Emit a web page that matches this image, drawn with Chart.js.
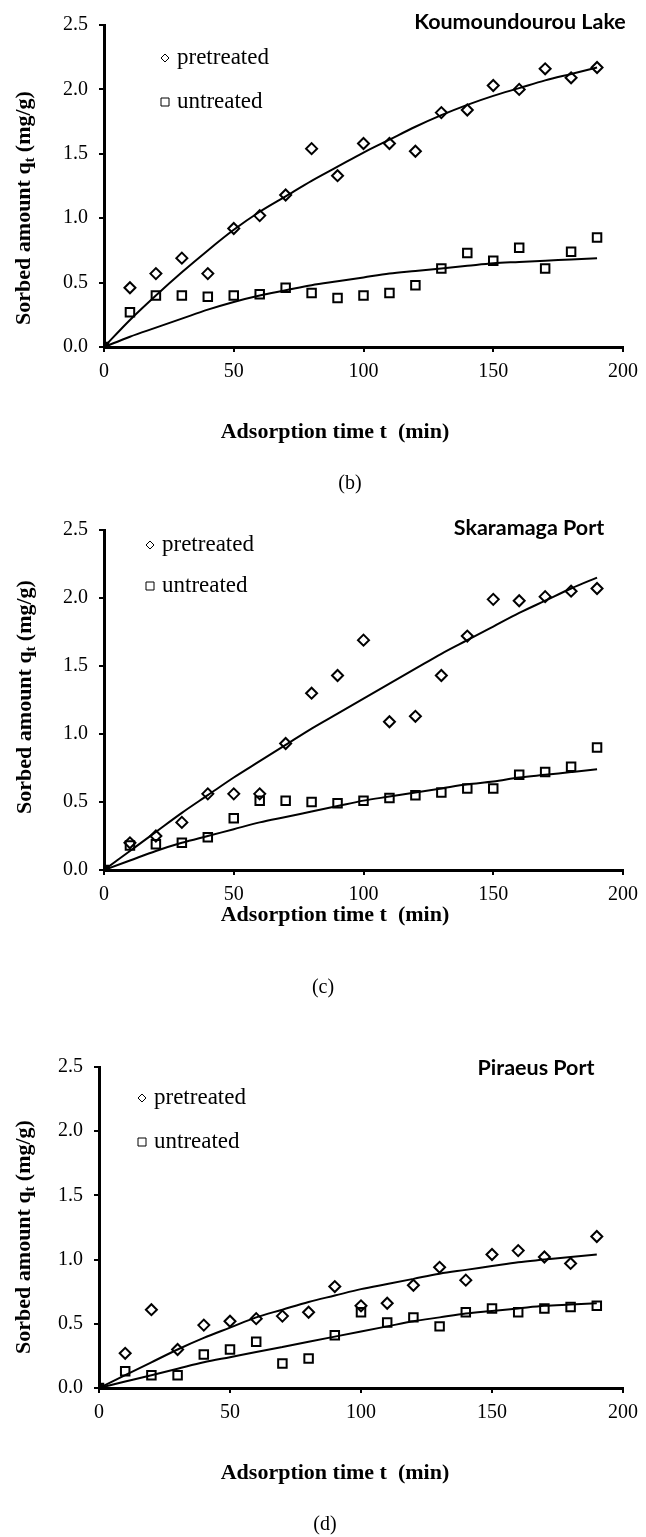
<!DOCTYPE html>
<html>
<head>
<meta charset="utf-8">
<script src="https://cdn.jsdelivr.net/npm/chart.js@4.4.1/dist/chart.umd.min.js"></script>
<style>
  html, body { margin: 0; padding: 0; background: #fff; }
  body { width: 646px; height: 1537px; position: relative; overflow: hidden; }
  canvas { position: absolute; left: 0; }
</style>
</head>
<body>
<canvas id="chartB" width="646" height="495" style="top:0px"></canvas>
<canvas id="chartC" width="646" height="505" style="top:495px"></canvas>
<canvas id="chartD" width="646" height="537" style="top:1000px"></canvas>
<script>
// ─── Data ───────────────────────────────────────────────────────────────────
const TIMES = [0, 10, 20, 30, 40, 50, 60, 70, 80, 90, 100, 110, 120, 130, 140, 150, 160, 170, 180, 190];
const SERIES = ['pretreated', 'untreated'];
const SITES = ['Koumoundourou Lake', 'Skaramaga Port', 'Piraeus Port'];
const TAGS = ['(b)', '(c)', '(d)'];
const X_TICKS = [0, 50, 100, 150, 200];
const Y_TICKS = [0, 0.5, 1.0, 1.5, 2.0, 2.5];
const X_TITLE = 'Adsorption time t  (min)';
const Y_TITLE = ['Sorbed amount q', 't', ' (mg/g)'];

// (b) Koumoundourou Lake
const B_PRE     = [0, 0.46, 0.57, 0.69, 0.57, 0.92, 1.02, 1.18, 1.54, 1.33, 1.58, 1.58, 1.52, 1.82, 1.84, 2.03, 2.00, 2.16, 2.09, 2.17];
const B_UNT     = [0, 0.27, 0.40, 0.40, 0.39, 0.40, 0.41, 0.46, 0.42, 0.38, 0.40, 0.42, 0.48, 0.61, 0.73, 0.67, 0.77, 0.61, 0.74, 0.85];
const B_PRE_FIT = [0, 0.21, 0.40, 0.58, 0.75, 0.91, 1.05, 1.17, 1.29, 1.40, 1.51, 1.61, 1.71, 1.80, 1.88, 1.95, 2.01, 2.07, 2.12, 2.17];
const B_UNT_FIT = [0, 0.08, 0.15, 0.22, 0.29, 0.35, 0.40, 0.44, 0.48, 0.51, 0.54, 0.57, 0.59, 0.61, 0.63, 0.65, 0.66, 0.67, 0.68, 0.69];

// (c) Skaramaga Port
const C_PRE     = [0, 0.20, 0.25, 0.35, 0.56, 0.56, 0.56, 0.93, 1.30, 1.43, 1.69, 1.09, 1.13, 1.43, 1.72, 1.99, 1.98, 2.01, 2.05, 2.07];
const C_UNT     = [0, 0.18, 0.19, 0.20, 0.24, 0.38, 0.51, 0.51, 0.50, 0.49, 0.51, 0.53, 0.55, 0.57, 0.60, 0.60, 0.70, 0.72, 0.76, 0.90];
const C_PRE_FIT = [0, 0.14, 0.28, 0.42, 0.55, 0.68, 0.80, 0.92, 1.04, 1.15, 1.26, 1.37, 1.48, 1.59, 1.69, 1.79, 1.89, 1.98, 2.07, 2.15];
const C_UNT_FIT = [0, 0.07, 0.14, 0.20, 0.25, 0.30, 0.35, 0.39, 0.43, 0.47, 0.51, 0.54, 0.57, 0.60, 0.63, 0.65, 0.68, 0.70, 0.72, 0.74];

// (d) Piraeus Port
const D_PRE     = [0, 0.27, 0.61, 0.30, 0.49, 0.52, 0.54, 0.56, 0.59, 0.79, 0.64, 0.66, 0.80, 0.94, 0.84, 1.04, 1.07, 1.02, 0.97, 1.18];
const D_UNT     = [0, 0.13, 0.10, 0.10, 0.26, 0.30, 0.36, 0.19, 0.23, 0.41, 0.59, 0.51, 0.55, 0.48, 0.59, 0.62, 0.59, 0.62, 0.63, 0.64];
const D_PRE_FIT = [0, 0.10, 0.20, 0.30, 0.39, 0.47, 0.55, 0.61, 0.67, 0.72, 0.77, 0.81, 0.85, 0.89, 0.92, 0.95, 0.98, 1.00, 1.02, 1.04];
const D_UNT_FIT = [0, 0.05, 0.10, 0.15, 0.20, 0.24, 0.28, 0.32, 0.36, 0.40, 0.44, 0.48, 0.52, 0.55, 0.58, 0.60, 0.62, 0.64, 0.65, 0.66];

// ─── Styling ────────────────────────────────────────────────────────────────
const SERIF = '"Liberation Serif", "Times New Roman", serif';
const SANS = 'Lato, "Open Sans", sans-serif';
const INK = '#000';

const pts = arr => arr.map((v, i) => ({ x: TIMES[i], y: v }));

// Everything that is text-only and sits around the axes
const annotations = {
  id: 'annotations',
  afterDraw(chart, args, o) {
    const ctx = chart.ctx;
    ctx.save();
    ctx.fillStyle = INK;
    ctx.strokeStyle = INK;

    // site name
    ctx.font = `bold 21.5px ${SANS}`;
    ctx.textAlign = 'center';
    ctx.textBaseline = 'middle';
    ctx.fillText(o.site, o.siteX, o.siteY);

    // legend (built from the scatter datasets)
    chart.data.datasets.filter(d => d.type === 'scatter').forEach((d, i) => {
      const y = o.legY + i * o.legGap;
      ctx.lineWidth = 1;
      ctx.beginPath();
      if (d.pointStyle === 'rectRot') {
        ctx.moveTo(o.legX - 4, y); ctx.lineTo(o.legX, y - 4);
        ctx.lineTo(o.legX + 4, y); ctx.lineTo(o.legX, y + 4);
        ctx.closePath();
      } else {
        ctx.rect(o.legX - 4, y - 4, 8, 8);
      }
      ctx.stroke();
      ctx.font = `23px ${SERIF}`;
      ctx.textAlign = 'left';
      ctx.textBaseline = 'middle';
      ctx.fillText(d.label, o.legX + 12, y);
    });

    // x title
    ctx.font = `bold 22px ${SERIF}`;
    ctx.textAlign = 'center';
    ctx.textBaseline = 'middle';
    ctx.fillText(X_TITLE, o.xtX, o.xtY);

    // panel tag
    ctx.font = `20px ${SERIF}`;
    ctx.fillText(o.tag, o.tagX, o.tagY);

    // y title with subscript t
    ctx.translate(o.ytX, o.ytY);
    ctx.rotate(-Math.PI / 2);
    const big = `bold 22px ${SERIF}`, small = `bold 14px ${SERIF}`;
    const parts = [[Y_TITLE[0], big, 7], [Y_TITLE[1], small, 11], [Y_TITLE[2], big, 7]];
    let total = 0;
    parts.forEach(p => { ctx.font = p[1]; total += ctx.measureText(p[0]).width; });
    let x = -total / 2;
    ctx.textAlign = 'left';
    ctx.textBaseline = 'alphabetic';
    parts.forEach(p => { ctx.font = p[1]; ctx.fillText(p[0], x, p[2]); x += ctx.measureText(p[0]).width; });
    ctx.restore();
  }
};

function buildPanel(id, pre, unt, preFit, untFit, lay) {
  const fitLine = data => ({
    type: 'line', data: pts(data), borderColor: INK, borderWidth: 2,
    pointRadius: 0, cubicInterpolationMode: 'monotone', fill: false, order: 2,
  });
  return new Chart(document.getElementById(id), {
    data: {
      datasets: [
        { type: 'scatter', label: SERIES[0], data: pts(pre), pointStyle: 'rectRot', radius: 5.5,
          borderColor: INK, backgroundColor: 'rgba(0,0,0,0)', borderWidth: 2, order: 1 },
        { type: 'scatter', label: SERIES[1], data: pts(unt), pointStyle: 'rect', radius: 6,
          borderColor: INK, backgroundColor: 'rgba(0,0,0,0)', borderWidth: 2, order: 1 },
        fitLine(preFit),
        fitLine(untFit),
      ]
    },
    options: {
      responsive: false,
      animation: false,
      layout: { padding: lay.padding },
      plugins: {
        legend: { display: false },
        tooltip: { enabled: false },
        annotations: lay.text,
      },
      scales: {
        x: {
          type: 'linear', min: X_TICKS[0], max: X_TICKS[X_TICKS.length - 1],
          afterFit: s => { s.height = 40; },
          afterBuildTicks: s => { s.ticks = X_TICKS.map(v => ({ value: v })); },
          border: { display: true, color: INK, width: 3 },
          grid: { drawOnChartArea: false, drawTicks: true, tickLength: 5, color: INK, lineWidth: 2 },
          ticks: { color: INK, padding: 8, maxRotation: 0, font: { family: SERIF, size: 20 } },
        },
        y: {
          type: 'linear', min: Y_TICKS[0], max: Y_TICKS[Y_TICKS.length - 1],
          afterFit: s => { s.width = 60; },
          afterBuildTicks: s => { s.ticks = Y_TICKS.map(v => ({ value: v })); },
          border: { display: true, color: INK, width: 3 },
          grid: { drawOnChartArea: false, drawTicks: true, tickLength: 5, color: INK, lineWidth: 2 },
          ticks: { color: INK, padding: 11, font: { family: SERIF, size: 20 }, callback: v => v.toFixed(1) },
        },
      },
    },
    plugins: [annotations],
  });
}

// canvas tops: 0, 495, 1000 — text positions are given in page coords minus the canvas top
buildPanel('chartB', B_PRE, B_UNT, B_PRE_FIT, B_UNT_FIT, {
  padding: { left: 44, right: 20, top: 25, bottom: 108 },
  text: { site: SITES[0], siteX: 520, siteY: 22, legX: 165, legY: 58, legGap: 44,
          xtX: 335, xtY: 432, tag: TAGS[0], tagX: 350, tagY: 484, ytX: 23, ytY: 208 },
});
buildPanel('chartC', C_PRE, C_UNT, C_PRE_FIT, C_UNT_FIT, {
  padding: { left: 44, right: 20, top: 35, bottom: 90 },
  text: { site: SITES[1], siteX: 529, siteY: 528 - 495, legX: 150, legY: 545 - 495, legGap: 41,
          xtX: 335, xtY: 915 - 495, tag: TAGS[1], tagX: 323, tagY: 988 - 495, ytX: 24, ytY: 697 - 495 },
});
buildPanel('chartD', D_PRE, D_UNT, D_PRE_FIT, D_UNT_FIT, {
  padding: { left: 39, right: 19, top: 67, bottom: 109 },
  text: { site: SITES[2], siteX: 536, siteY: 1068 - 1000, legX: 142, legY: 1098 - 1000, legGap: 44,
          xtX: 335, xtY: 1473 - 1000, tag: TAGS[2], tagX: 325, tagY: 1525 - 1000, ytX: 23, ytY: 1237 - 1000 },
});
</script>
</body>
</html>
